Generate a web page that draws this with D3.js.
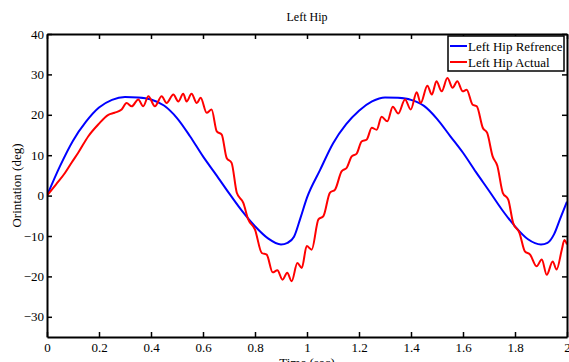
<!DOCTYPE html>
<html>
<head>
<meta charset="utf-8">
<script src="https://cdn.jsdelivr.net/npm/d3@7"></script>
<style>
  body { margin: 0; background: #fff; }
  text { font-family: "Liberation Serif", "Times New Roman", serif; }
</style>
</head>
<body>
<svg id="chart" width="569" height="362"></svg>
<script>
// reference curve (blue)
const refTime = [0, 0.05, 0.1, 0.15, 0.2, 0.25, 0.3, 0.35, 0.4, 0.45, 0.5, 0.55, 0.6, 0.65, 0.7, 0.75, 0.8, 0.85, 0.9, 0.925, 0.95, 0.975,
  1.0, 1.05, 1.1, 1.15, 1.2, 1.25, 1.3, 1.35, 1.4, 1.45, 1.5, 1.55, 1.6, 1.65, 1.7, 1.75, 1.8, 1.85, 1.9, 1.925, 1.95, 1.975, 2.0];
const refValue = [0, 7.3, 13.6, 18.3, 21.8, 23.7, 24.4, 24.3, 23.8, 22.3, 19.2, 14.7, 9.7, 5.2, 0.6, -3.8, -7.6, -10.6, -12.1, -11.7, -10.2, -5.5,
  -0.5, 6.3, 12.9, 17.6, 21.0, 23.3, 24.3, 24.2, 23.7, 22.2, 19.0, 14.8, 10.6, 5.8, 1.2, -3.5, -7.6, -10.8, -12.1, -11.7, -9.6, -5.5, -1.5];

// actual curve (red)
const actTime = [0, 0.035, 0.069, 0.095, 0.12, 0.159, 0.197, 0.236, 0.26, 0.287, 0.306, 0.326, 0.351, 0.37, 0.39, 0.415, 0.441, 0.46, 0.486, 0.505,
  0.524, 0.537, 0.556, 0.576, 0.591, 0.614, 0.633, 0.653, 0.672, 0.691, 0.71, 0.73, 0.755, 0.774, 0.8, 0.826, 0.845, 0.868, 0.886, 0.906,
  0.924, 0.941, 0.963, 0.98, 0.999, 1.018, 1.044, 1.063, 1.088, 1.108, 1.133, 1.153, 1.172, 1.191, 1.21, 1.23, 1.249, 1.268, 1.287, 1.309,
  1.33, 1.351, 1.377, 1.399, 1.422, 1.437, 1.463, 1.48, 1.498, 1.518, 1.54, 1.56, 1.578, 1.599, 1.614, 1.637, 1.653, 1.676, 1.693, 1.714,
  1.732, 1.753, 1.774, 1.793, 1.817, 1.838, 1.858, 1.883, 1.903, 1.922, 1.945, 1.96, 1.98, 1.99, 2.0];
const actValue = [0, 2.8, 5.6, 8.2, 10.6, 14.7, 17.6, 20.0, 20.5, 21.3, 22.9, 22.1, 23.8, 22.1, 24.6, 22.1, 24.6, 22.9, 25.0, 23.3,
  25.2, 23.3, 25.2, 22.9, 24.2, 20.5, 21.3, 15.9, 15.1, 9.3, 8.1, 0.7, -1.8, -5.9, -8.4, -14.2, -14.6, -19.0, -18.5, -20.8,
  -19.1, -21.2, -16.7, -17.9, -12.5, -13.4, -5.9, -5.1, 0.7, 1.5, 6.0, 6.9, 9.7, 10.4, 13.4, 13.9, 16.8, 16.3, 19.5, 18.4,
  22.0, 20.3, 23.8, 21.3, 25.6, 22.9, 27.2, 25.0, 28.3, 25.8, 29.1, 26.7, 28.3, 25.8, 26.2, 22.5, 22.1, 16.8, 15.5, 9.7,
  7.4, 0.7, -1.0, -6.8, -9.2, -13.8, -14.6, -17.5, -15.8, -19.6, -16.3, -18.3, -13.4, -11.0, -12.1];

const xTicks = [0, 0.2, 0.4, 0.6, 0.8, 1, 1.2, 1.4, 1.6, 1.8, 2];
const yTicks = [-30, -20, -10, 0, 10, 20, 30, 40];
const seriesNames = ["Left Hip Refrence", "Left Hip Actual"];

const svg = d3.select("#chart");
const margin = { top: 34, right: 2, bottom: 25, left: 47 };
const width = +svg.attr("width");
const height = +svg.attr("height");
const w = width - margin.left - margin.right;
const h = height - margin.top - margin.bottom;

const x = d3.scaleLinear().domain([0, 2]).range([0, w]);
const y = d3.scaleLinear().domain([-35, 40]).range([h, 0]);

const g = svg.append("g").attr("transform", `translate(${margin.left},${margin.top})`);

const refData = refTime.map((t, i) => ({ t, v: refValue[i] }));
const actData = actTime.map((t, i) => ({ t, v: actValue[i] }));

g.append("clipPath").attr("id", "clip").append("rect").attr("width", w).attr("height", h);

const line = d3.line().x(d => x(d.t)).y(d => y(d.v)).curve(d3.curveMonotoneX);

g.append("path").datum(refData)
  .attr("fill", "none").attr("stroke", "#0000ff").attr("stroke-width", 2)
  .attr("clip-path", "url(#clip)").attr("d", line);

g.append("path").datum(actData)
  .attr("fill", "none").attr("stroke", "#ff0000").attr("stroke-width", 2)
  .attr("clip-path", "url(#clip)").attr("d", line);

// axes, ticks inward (matlab box)
const tickLen = 5;
function styleAxis(sel) {
  sel.select(".domain").attr("stroke", "#000").attr("stroke-width", 2);
  sel.selectAll(".tick line").attr("stroke", "#000").attr("stroke-width", 1.5);
  sel.selectAll(".tick text").attr("fill", "#000").style("font-size", "13px")
    .style("font-family", "'Liberation Serif', serif");
}

g.append("g").attr("transform", `translate(0,${h})`)
  .call(d3.axisBottom(x).tickValues(xTicks).tickSizeInner(-tickLen).tickSizeOuter(0).tickPadding(6).tickFormat(d3.format("")))
  .call(styleAxis);

g.append("g")
  .call(d3.axisTop(x).tickValues(xTicks).tickSizeInner(-tickLen).tickSizeOuter(0).tickFormat(""))
  .call(styleAxis);

g.append("g")
  .call(d3.axisLeft(y).tickValues(yTicks).tickSizeInner(-tickLen).tickSizeOuter(0).tickPadding(3))
  .call(styleAxis);

g.append("g").attr("transform", `translate(${w},0)`)
  .call(d3.axisRight(y).tickValues(yTicks).tickSizeInner(-tickLen).tickSizeOuter(0).tickFormat(""))
  .call(styleAxis);

// title and labels
svg.append("text")
  .attr("x", margin.left + w / 2).attr("y", 21)
  .attr("text-anchor", "middle").style("font-size", "12px")
  .text("Left Hip");

svg.append("text")
  .attr("x", margin.left + w / 2).attr("y", 367)
  .attr("text-anchor", "middle").style("font-size", "13px")
  .text("Time (sec)");

svg.append("text")
  .attr("transform", `translate(21,${margin.top + h / 2}) rotate(-90)`)
  .attr("text-anchor", "middle").style("font-size", "13px")
  .text("Orintation (deg)");

// legend
const legend = svg.append("g").attr("transform", "translate(448,36)");
legend.append("rect").attr("width", 116).attr("height", 35)
  .attr("fill", "#fff").attr("stroke", "#000").attr("stroke-width", 1.5);
const colors = ["#0000ff", "#ff0000"];
seriesNames.forEach((name, i) => {
  const ly = 10 + i * 16;
  legend.append("line").attr("x1", 2).attr("x2", 19).attr("y1", ly).attr("y2", ly)
    .attr("stroke", colors[i]).attr("stroke-width", 2);
  legend.append("text").attr("x", 20).attr("y", ly + 4.5)
    .style("font-size", "13px").text(name);
});
</script>
</body>
</html>
